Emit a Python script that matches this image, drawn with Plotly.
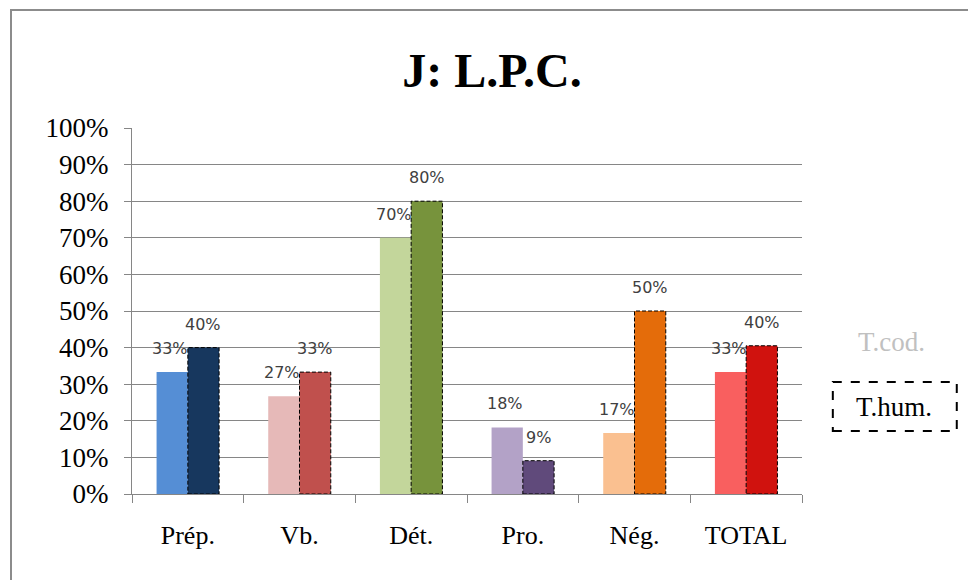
import plotly.graph_objects as go

categories = ["Prép.", "Vb.", "Dét.", "Pro.", "Nég.", "TOTAL"]
t_cod = [33.3, 26.7, 70.0, 18.2, 16.7, 33.3]
t_hum = [40.0, 33.3, 80.0, 9.1, 50.0, 40.5]
t_cod_labels = ["33%", "27%", "70%", "18%", "17%", "33%"]
t_hum_labels = ["40%", "33%", "80%", "9%", "50%", "40%"]
cod_colors = ["#558ed5", "#e6b9b8", "#c3d69b", "#b3a2c7", "#fac090", "#f95f5f"]
hum_colors = ["#17375e", "#c0504d", "#77933c", "#604a7b", "#e46c0a", "#d0120e"]
y_ticks = list(range(0, 101, 10))

BW = 0.28
serif = "Liberation Serif, Times New Roman, serif"
sans = "DejaVu Sans, Verdana, sans-serif"

fig = go.Figure()
fig.add_trace(go.Bar(x=categories, y=t_cod, name="T.cod.", marker=dict(color=cod_colors, line=dict(width=0)),
                     width=BW, offset=-BW, showlegend=False, hoverinfo="skip"))
fig.add_trace(go.Bar(x=categories, y=t_hum, name="T.hum.", marker=dict(color=hum_colors, line=dict(width=0)),
                     width=BW, offset=0, showlegend=False, hoverinfo="skip"))

shapes = []
annotations = []
for i, (vc, vh, lc, lh) in enumerate(zip(t_cod, t_hum, t_cod_labels, t_hum_labels)):
    shapes.append(dict(type="rect", xref="x", yref="y", x0=i, x1=i + BW, y0=0, y1=vh,
                       line=dict(color="black", width=1, dash="4px,2px"), layer="above"))
    annotations.append(dict(x=i - BW / 2, y=vc, xref="x", yref="y", text=lc, showarrow=False,
                            yanchor="bottom", yshift=12, xshift=-2,
                            font=dict(family=sans, size=16, color="#404040")))
    annotations.append(dict(x=i + BW / 2, y=vh, xref="x", yref="y", text=lh, showarrow=False,
                            yanchor="bottom", yshift=12,
                            font=dict(family=sans, size=16, color="#404040")))

# outer frame
shapes.append(dict(type="rect", xref="paper", yref="paper", x0=-0.1806, x1=1.2537, y0=-0.26, y1=1.3224,
                   line=dict(color="#8c8c8c", width=2), layer="below"))
# legend
annotations.append(dict(x=1.133, y=0.415, xref="paper", yref="paper", text="T.cod.", showarrow=False,
                        xanchor="center", yanchor="middle",
                        font=dict(family=serif, size=27, color="#c0c0c0")))
annotations.append(dict(x=1.137, y=0.238, xref="paper", yref="paper", text="T.hum.", showarrow=False,
                        xanchor="center", yanchor="middle",
                        font=dict(family=serif, size=27, color="black")))
shapes.append(dict(type="rect", xref="paper", yref="paper", x0=1.046, x1=1.231, y0=0.172, y1=0.306,
                   line=dict(color="black", width=2, dash="dash")))

fig.update_layout(
    width=968, height=572,
    margin=dict(l=124, r=174, t=120, b=86),
    paper_bgcolor="white", plot_bgcolor="white",
    barmode="overlay",
    title=dict(text="<b>J: L.P.C.</b>", x=0.5, xanchor="center", xref="container", y=0.8916, yanchor="middle",
               font=dict(family=serif, size=48, color="black")),
    shapes=shapes, annotations=annotations,
    xaxis=dict(type="category", showgrid=False, showline=True, linecolor="#868686", linewidth=1,
               ticks="outside", tickson="boundaries", ticklen=8, tickcolor="#868686",
               tickfont=dict(family=serif, size=26, color="black"), ticklabelstandoff=18,
               range=[-0.5, 5.5]),
    yaxis=dict(range=[0, 100], tickvals=y_ticks, ticktext=[f"{v}%" for v in y_ticks],
               showgrid=True, gridcolor="#868686", gridwidth=1, zeroline=False,
               showline=True, linecolor="#868686", linewidth=1,
               ticks="outside", ticklen=7, tickcolor="#868686",
               tickfont=dict(family=serif, size=27, color="black"), ticklabelstandoff=10),
)

fig.write_html("out.html")
